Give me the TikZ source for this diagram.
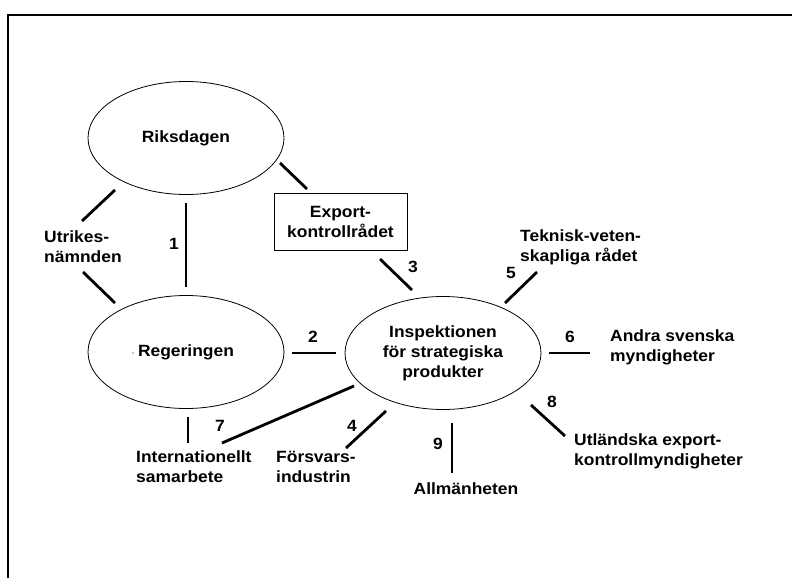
\documentclass[tikz,border=0pt]{standalone}
\usepackage{fontspec}
\setmainfont[FakeStretch=1.07]{Liberation Sans}
\usetikzlibrary{shapes.geometric}

\tikzset{
	organ/.style={draw,ellipse,line width=0.8pt,minimum width=196pt,minimum height=113pt,inner sep=0pt,align=center},
	council/.style={draw,line width=0.8pt,minimum width=133pt,minimum height=57pt,align=center},
	party/.style={anchor=west,align=left,inner sep=0pt},
	link/.style={line width=2.8pt}
}

\begin{document}
\begin{tikzpicture}[x=1pt,y=-1pt,font=\fontsize{16.3}{20}\selectfont\bfseries]
		\useasboundingbox (0,0) rectangle (792,578);
		\draw[line width=2pt] (8,578) -- (8,15) -- (792,15);
		%
		\node[organ] (riks) at (186,138) {Riksdagen};
		\node[organ] (reg) at (186,352) {Regeringen};
		\node[organ] (isp) at (443,353) {Inspektionen\\f\"or strategiska\\produkter};
		\node[council] (ekr) at (340.5,221.5) {Export-\\kontrollr\aa det};
		\fill (133,353) circle (0.6pt);
		%
		\node[party] (utr) at (44,247) {Utrikes-\\n\"amnden};
		\node[party] (tek) at (520,247) {Teknisk-veten-\\skapliga r\aa det};
		\node[party] (andra) at (610,347) {Andra svenska\\myndigheter};
		\node[party] (utl) at (574,451) {Utl\"andska export-\\kontrollmyndigheter};
		\node[party] (fors) at (276,467) {F\"orsvars-\\industrin};
		\node[party] (intl) at (136,467) {Internationellt\\samarbete};
		\node (allm) at (466,489) {Allm\"anheten};
		%
		\coordinate (ru1) at (115,190); \coordinate (ru2) at (82,221);
		\coordinate (ur1) at (83,272); \coordinate (ur2) at (115,303);
		\coordinate (re1) at (280,163); \coordinate (re2) at (307,189);
		\coordinate (a1) at (186,203); \coordinate (b1) at (186,287);
		\coordinate (a2) at (292,353); \coordinate (b2) at (336,353);
		\coordinate (a3) at (380,259); \coordinate (b3) at (412,290);
		\coordinate (a4) at (386,411); \coordinate (b4) at (346,448);
		\coordinate (a5) at (537,272); \coordinate (b5) at (505,303);
		\coordinate (a6) at (549,353); \coordinate (b6) at (590,353);
		\coordinate (a7) at (354,386); \coordinate (b7) at (222,443);
		\coordinate (a8) at (531,405); \coordinate (b8) at (565,436);
		\coordinate (a9) at (452,423); \coordinate (b9) at (452,473);
		\coordinate (ri1) at (188,417); \coordinate (ri2) at (188,443);
		%
		\path[link]
		(ru1) edge (ru2)
		(ur1) edge (ur2)
		(re1) edge (re2)
		(a1) edge (b1)
		(a2) edge (b2)
		(a3) edge (b3)
		(a4) edge (b4)
		(a5) edge (b5)
		(a6) edge (b6)
		(a7) edge (b7)
		(a8) edge (b8)
		(a9) edge (b9)
		(ri1) edge (ri2);
		%
		\node (n1) at (174,244) {1};
		\node (n2) at (313,337) {2};
		\node (n3) at (413,267) {3};
		\node (n4) at (352,426) {4};
		\node (n5) at (511,273) {5};
		\node (n6) at (570,337) {6};
		\node (n7) at (220,426) {7};
		\node (n8) at (552,402) {8};
		\node (n9) at (438,444) {9};
\end{tikzpicture}
\end{document}
